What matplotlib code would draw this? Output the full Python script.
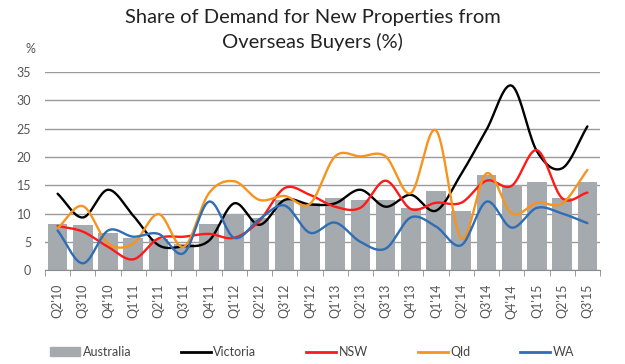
import numpy as np
import matplotlib
matplotlib.use("Agg")
import matplotlib.pyplot as plt
from matplotlib.patches import Patch
from matplotlib.lines import Line2D

quarters = ["Q2'10", "Q3'10", "Q4'10", "Q1'11", "Q2'11", "Q3'11", "Q4'11", "Q1'12",
            "Q2'12", "Q3'12", "Q4'12", "Q1'13", "Q2'13", "Q3'13", "Q4'13", "Q1'14",
            "Q2'14", "Q3'14", "Q4'14", "Q1'15", "Q2'15", "Q3'15"]

australia = [8.2, 8.0, 6.5, 5.6, 5.5, 4.6, 8.2, 10.0, 9.2, 12.4, 11.8, 12.8,
             12.4, 12.3, 11.0, 13.9, 10.5, 16.8, 15.1, 15.5, 12.8, 15.6]
victoria = [13.5, 9.3, 14.2, 9.6, 4.4, 4.2, 5.2, 11.8, 8.0, 12.4, 11.6, 11.8,
            14.2, 11.2, 13.3, 10.5, 17.0, 24.8, 32.6, 21.0, 18.0, 25.4]
nsw = [7.8, 6.8, 4.1, 1.9, 5.6, 5.9, 6.4, 5.7, 8.7, 14.5, 13.3, 11.2,
       11.0, 15.8, 10.8, 11.9, 11.9, 15.8, 14.9, 21.2, 12.7, 13.7]
qld = [7.4, 11.3, 4.7, 4.7, 9.9, 4.1, 13.6, 15.7, 12.4, 13.1, 11.7, 20.1,
       20.1, 20.1, 13.6, 24.7, 5.6, 17.1, 10.0, 11.9, 11.8, 17.7]
wa = [7.0, 1.2, 7.0, 5.9, 6.4, 3.0, 12.1, 5.7, 9.0, 11.4, 6.6, 8.4,
      5.0, 3.8, 9.3, 7.7, 4.4, 12.1, 7.5, 11.0, 10.0, 8.3]


def smooth(x, y, n=20):
    # Catmull-Rom curve through the points, like Excel's smoothed lines
    x = np.asarray(x, float)
    y = np.asarray(y, float)
    px = np.concatenate([[2 * x[0] - x[1]], x, [2 * x[-1] - x[-2]]])
    py = np.concatenate([[2 * y[0] - y[1]], y, [2 * y[-1] - y[-2]]])
    xs, ys = [], []
    t = np.linspace(0, 1, n, endpoint=False)
    for i in range(1, len(px) - 2):
        for p, out in ((px, xs), (py, ys)):
            p0, p1, p2, p3 = p[i - 1], p[i], p[i + 1], p[i + 2]
            out.extend(0.5 * (2 * p1 + (-p0 + p2) * t
                              + (2 * p0 - 5 * p1 + 4 * p2 - p3) * t ** 2
                              + (-p0 + 3 * p1 - 3 * p2 + p3) * t ** 3))
    xs.append(x[-1])
    ys.append(y[-1])
    return xs, ys


plt.rcParams['font.family'] = ['Lato', 'DejaVu Sans']

fig = plt.figure(figsize=(6.25, 3.64), dpi=100)
ax = fig.add_axes([0.072, 0.258, 0.888, 0.544])

x = np.arange(len(quarters))
ax.bar(x, australia, width=0.78, color='#a4aaae', zorder=2)

series = [(victoria, 'black'), (nsw, '#ff1a1a'), (qld, '#f7941d'), (wa, '#2f6db5')]
for vals, col in series:
    sx, sy = smooth(x, vals)
    ax.plot(sx, sy, color=col, lw=1.7, zorder=3, solid_capstyle='round')

ax.set_xlim(-0.5, len(quarters) - 0.5)
ax.set_ylim(0, 35)
ax.set_yticks(range(0, 36, 5))
ax.yaxis.grid(True, color='#9a9a9a', lw=1.0, zorder=0)
ax.set_axisbelow(True)
for s in ['left', 'right', 'top']:
    ax.spines[s].set_visible(False)
ax.spines['bottom'].set_color('#8a8a8a')
ax.tick_params(axis='y', length=0, labelsize=9, labelcolor='#555555', pad=10)
ax.set_xticks(x)
ax.set_xticklabels(quarters, rotation=90, fontsize=9, color='#555555')
ax.set_xticks(np.arange(-0.5, len(quarters)), minor=True)
ax.tick_params(axis='x', which='major', length=0, pad=10)
ax.tick_params(axis='x', which='minor', length=4, color='#8a8a8a')

fig.text(0.04, 0.855, '%', fontsize=9, color='#555555')
fig.suptitle('Share of Demand for New Properties from\nOverseas Buyers (%)',
             y=0.975, fontsize=14.5, color='#222222', linespacing=1.45)

handles = [Patch(color='#a4aaae'),
           Line2D([], [], color='black', lw=2),
           Line2D([], [], color='#ff1a1a', lw=2),
           Line2D([], [], color='#f7941d', lw=2),
           Line2D([], [], color='#2f6db5', lw=2)]
labels = ['Australia', 'Victoria', 'NSW', 'Qld', 'WA']
leg = fig.legend(handles, labels, ncol=5, loc='center left',
                 bbox_to_anchor=(0.072, 0.033, 0.855, 0.0), mode='expand',
                 frameon=False, fontsize=9, handlelength=2.4, handletextpad=0.2,
                 borderaxespad=0)
for t in leg.get_texts():
    t.set_color('#444444')

fig.savefig('out.png', dpi=100)
